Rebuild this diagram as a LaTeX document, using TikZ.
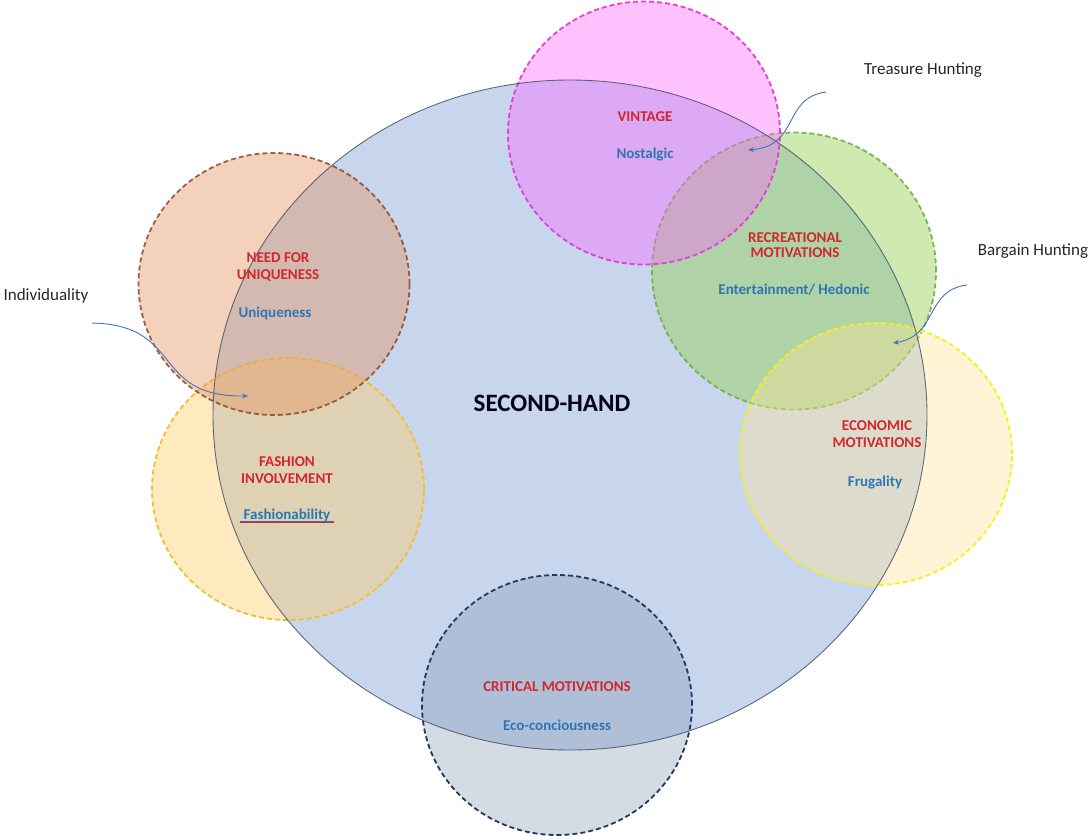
\documentclass[tikz,border=0pt]{standalone}
\usepackage{fontspec}
\setmainfont{Carlito}
\usetikzlibrary{shapes.geometric,arrows.meta}

\definecolor{shfill}{HTML}{B4C7E7}
\definecolor{shline}{HTML}{44546A}
\definecolor{vinfill}{HTML}{FF66FF}
\definecolor{vinline}{HTML}{E040D8}
\definecolor{recfill}{HTML}{92D050}
\definecolor{recline}{HTML}{70AD47}
\definecolor{ecofill}{HTML}{FFE699}
\definecolor{ecoline}{HTML}{F2F21A}
\definecolor{unifill}{HTML}{E59866}
\definecolor{uniline}{HTML}{8B4A2B}
\definecolor{fasfill}{HTML}{FFCC66}
\definecolor{fasline}{HTML}{F0C030}
\definecolor{crifill}{HTML}{8497B0}
\definecolor{criline}{HTML}{1F3864}
\definecolor{headred}{HTML}{D0282E}
\definecolor{subblue}{HTML}{2E75B6}
\definecolor{arrowblue}{HTML}{4472C4}

\begin{document}
\begin{tikzpicture}[x=1pt,y=-1pt,
  zone/.style n args={3}{ellipse, inner sep=0pt, outer sep=0pt,
    minimum width=#1, minimum height=#2, fill=#3},
  rim/.style={draw=#1, line width=1.8pt, dash pattern=on 5pt off 3pt},
  head/.style={text=headred, font=\fontsize{15}{17}\selectfont\bfseries, align=center},
  sub/.style={text=subblue, font=\fontsize{15}{17}\selectfont\bfseries},
  note/.style={text=black!85, font=\fontsize{17}{20}\selectfont},
  pointer/.style={draw=arrowblue, line width=0.9pt,
    -{Stealth[length=6pt, width=5pt]}}
]
\path[use as bounding box] (0,0) rectangle (1091,839);

% the second-hand field
\node[zone={714}{670}{shfill}, fill opacity=0.75] (sh) at (570,415) {};

% motivation circles, translucent and dashed
\node[zone={270}{260}{crifill}, fill opacity=0.35, rim=criline] (cri) at (557,705) {};
\node[zone={272}{262}{fasfill}, fill opacity=0.42, rim=fasline] (fas) at (288,489) {};
\node[zone={271}{262}{unifill}, fill opacity=0.45, rim=uniline, draw opacity=0.85] (uni) at (274,284) {};
\node[zone={284}{277}{recfill}, fill opacity=0.45, rim=recline, draw opacity=0.9] (rec) at (794,271) {};
\node[zone={272}{263}{vinfill}, fill opacity=0.40, rim=vinline] (vin) at (644,133) {};
\node[zone={272}{262}{ecofill}, fill opacity=0.40, rim=ecoline] (eco) at (876,454) {};

% outline of the second-hand field on top
\node[zone={714}{670}{none}, fill opacity=0, draw=shline, line width=0.9pt, draw opacity=0.85] (shrim) at (570,415) {};

% headings and descriptors
\node[text=black!90!blue, font=\fontsize{25}{28}\selectfont\bfseries] (shlabel) at (552,403) {SECOND-HAND};

\node[head] (vinh) at (645,117) {VINTAGE};
\node[sub] (vins) at (645,155) {Nostalgic};

\node[head, font=\fontsize{15}{15}\selectfont\bfseries] (rech) at (795,245) {RECREATIONAL\\MOTIVATIONS};
\node[sub] (recs) at (794,290) {Entertainment/ Hedonic};

\node[head] (ecoh) at (877,434) {ECONOMIC\\MOTIVATIONS};
\node[sub] (ecos) at (875,482) {Frugality};

\node[head] (unih) at (278,267) {NEED FOR\\UNIQUENESS};
\node[sub] (unis) at (275,313) {Uniqueness};

\node[head] (fash) at (287,470) {FASHION\\INVOLVEMENT};
\node[sub] (fass) at (287,515) {Fashionability};
\draw[subblue, line width=0.7pt] ([yshift=4pt]fass.south west) -- ([yshift=4pt]fass.south east);
\draw[headred, line width=0.7pt] ([yshift=2.5pt]fass.south west) -- ([yshift=2.5pt]fass.south east);

\node[head] (crih) at (557,687) {CRITICAL MOTIVATIONS};
\node[sub] (cris) at (557,725) {Eco-conciousness};

% side notes with pointers
\node[note] (treasure) at (923,70) {Treasure Hunting};
\node[note] (bargain) at (1033,251) {Bargain Hunting};
\node[note] (indiv) at (46,296) {Individuality};

\coordinate (tstart) at (826,92);
\coordinate (tend) at (748,150);
\coordinate (bstart) at (967,285);
\coordinate (bend) at (893,343);
\coordinate (istart) at (92,323);
\coordinate (iend) at (248,396);

\draw[pointer] (tstart) .. controls (782,98) and (800,146) .. (tend);
\draw[pointer] (bstart) .. controls (925,290) and (938,336) .. (bend);
\draw[pointer] (istart) .. controls (185,325) and (150,397) .. (iend);
\end{tikzpicture}
\end{document}
